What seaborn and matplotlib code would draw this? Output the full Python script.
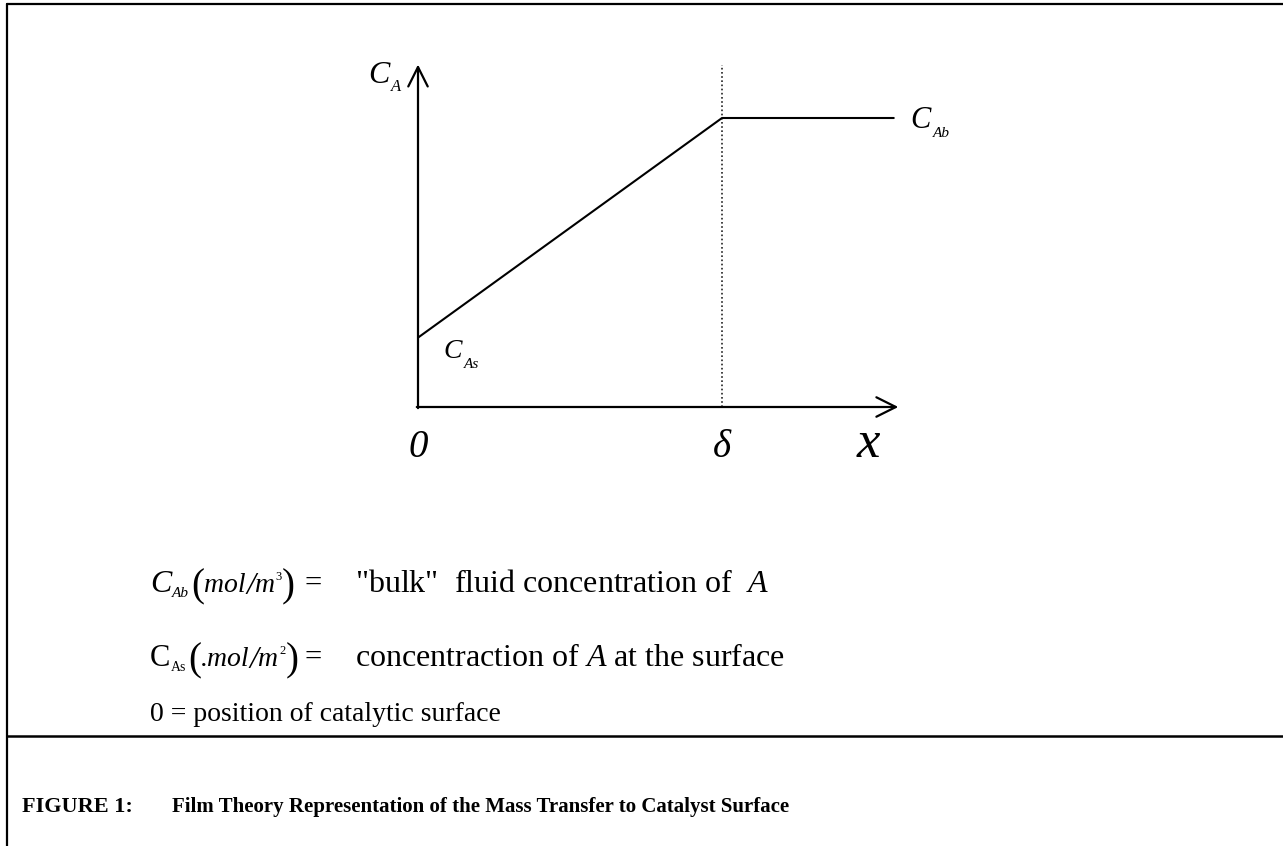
import matplotlib
matplotlib.use("Agg")
import matplotlib.pyplot as plt
import seaborn as sns
import pandas as pd

# concentration profile through the film, x measured in units of the film thickness delta
film_x = [0.0, 1.0, 1.565]
film_conc = [0.24, 1.0, 1.0]
delta = 1.0
x_axis_end = 1.58
y_axis_end = 1.185

axis_labels = ["0", "δ", "x"]
axis_label_pos = [0.0, 1.0, 1.48]
axis_label_size = [28, 28, 38]

legend_rhs = ['"bulk"  fluid concentration of  $\\mathit{A}$',
              "concentraction of $\\mathit{A}$ at the surface"]
footnote = "0 = position of catalytic surface"
caption_head = "FIGURE 1:"
caption = "Film Theory Representation of the Mass Transfer to Catalyst Surface"

W, H = 1283, 846
OX, OY = 418, 407      # pixel position of the origin
SX, SY = 304, 289      # pixels per data unit

sns.set_style("white")
plt.rcParams["font.family"] = ["Liberation Serif", "DejaVu Serif"]
plt.rcParams["text.color"] = "black"
plt.rcParams["mathtext.fontset"] = "custom"
plt.rcParams["mathtext.rm"] = "Liberation Serif"
plt.rcParams["mathtext.it"] = "Liberation Serif:italic"
plt.rcParams["mathtext.bf"] = "Liberation Serif:bold"

fig = plt.figure(figsize=(W / 100, H / 100), dpi=100)
ax = fig.add_axes([0, 0, 1, 1])
renderer = fig.canvas.get_renderer()


def px(x, y):
    return x / W, 1 - y / H


def chain(x, y, pieces):
    """write pieces one after another; each piece = (text, size, style, dy, gap)"""
    for text, size, style, dy, gap in pieces:
        x += gap
        t = fig.text(*px(x, y + dy), text, fontsize=size, style=style,
                     va="baseline", ha="left")
        x = t.get_window_extent(renderer=renderer).x1
    return x


# axes with open arrow heads
arrow = dict(arrowstyle="->,head_length=0.7,head_width=0.35", lw=1.6, color="black",
             shrinkA=0, shrinkB=0, mutation_scale=20)
ax.annotate("", xy=(x_axis_end, 0), xytext=(-0.004, 0), arrowprops=arrow)
ax.annotate("", xy=(0, y_axis_end), xytext=(0, -0.004), arrowprops=arrow)

# film boundary
ax.vlines(delta, 0, y_axis_end, colors="#222222", linestyles=(0, (1, 1.5)), lw=1.2)

# profile
df = pd.DataFrame({"x": film_x, "c": film_conc})
sns.lineplot(data=df, x="x", y="c", ax=ax, color="black", lw=1.5, sort=False)
ax.set_xlim(-OX / SX, (W - OX) / SX)
ax.set_ylim(-(H - OY) / SY, OY / SY)
ax.axis("off")

# axis labels, shared baseline
for pos, lab, sz in zip(axis_label_pos, axis_labels, axis_label_size):
    ax.text(pos, -0.173, lab, fontsize=sz, style="italic", ha="center", va="baseline")

# curve labels
chain(368, 83, [("C", 23, "italic", 0, 0), ("A", 12, "italic", 8, 2)])
chain(910, 128, [("C", 22, "italic", 0, 0), ("Ab", 11, "italic", 9, 2)])
chain(443, 358, [("C", 20, "italic", 0, 0), ("As", 11, "italic", 10, 2)])

# legend block
row_y = [592, 666]
chain(150, row_y[0], [("C", 23, "italic", 0, 0), ("Ab", 11, "italic", 5, 0),
                      ("(", 28, "normal", 4, 3), ("mol", 20, "italic", 0, 0),
                      ("/", 23, "italic", 2, 0), ("m", 20, "italic", 0, 0),
                      ("3", 9, "normal", -12, 1), (")", 28, "normal", 4, 0)])
chain(150, row_y[1], [("C", 22, "normal", 0, 0), ("As", 10, "normal", 5, 0),
                      ("(", 28, "normal", 4, 3), (".mol", 20, "italic", 0, -1),
                      ("/", 23, "italic", 2, 0), ("m", 20, "italic", 0, 0),
                      ("2", 9, "normal", -12, 1), (")", 28, "normal", 4, 0)])
for y, rhs in zip(row_y, legend_rhs):
    fig.text(*px(305, y), "=", fontsize=22, va="baseline", ha="left")
    fig.text(*px(355, y), rhs, fontsize=23, va="baseline", ha="left")
fig.text(*px(150, 721), footnote, fontsize=20, va="baseline", ha="left")

# frame
fig.add_artist(plt.Line2D([7 / W, 1], [1 - 4 / H] * 2, color="black", lw=1.6))
fig.add_artist(plt.Line2D([7 / W] * 2, [1 - 4 / H, 0], color="black", lw=1.6))
fig.add_artist(plt.Line2D([7 / W, 1], [1 - 736 / H] * 2, color="black", lw=1.8))

fig.text(*px(22, 812), caption_head, fontsize=16, weight="bold", va="baseline", ha="left")
fig.text(*px(172, 812), caption, fontsize=15, weight="bold", va="baseline", ha="left")

fig.savefig("out.png", dpi=100)
